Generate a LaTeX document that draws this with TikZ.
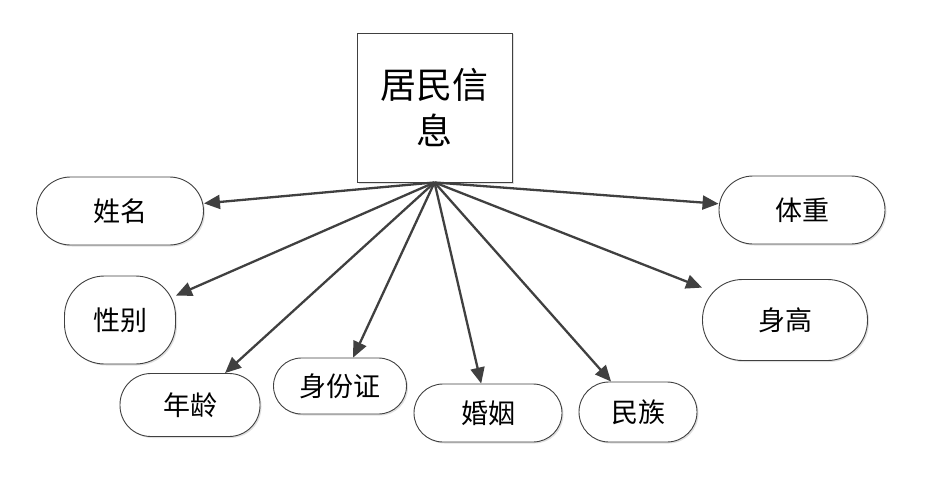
\documentclass[tikz,border=0pt]{standalone}
\usepackage{fontspec}
\newfontfamily\cjk{Noto Sans CJK SC}
\usetikzlibrary{arrows.meta,shadows}

\begin{document}
\begin{tikzpicture}[x=1pt,y=-1pt,
  box/.style={draw=black!75,line width=0.9pt,fill=white,
    drop shadow={shadow xshift=1.5pt,shadow yshift=-1.5pt,fill=black!12,opacity=1}},
  attr/.style={box,rounded corners=#1,inner sep=0pt,font=\cjk\fontsize{27}{32}\selectfont},
  link/.style={-{Triangle[length=16pt,width=14pt]},line width=2.3pt,draw=black!75}]
\useasboundingbox (0,0) rectangle (947,487);
% main entity
\node[box,minimum width=155pt,minimum height=149pt,align=center,
  font=\cjk\fontsize{36}{46}\selectfont] (jumin) at (434.5,107.5) {居民信\\息};
% attributes
\node[attr=34pt,minimum width=167pt,minimum height=68pt] (xingming) at (120,211) {姓名};
\node[attr=40pt,minimum width=111pt,minimum height=88pt] (xingbie) at (120,320) {性别};
\node[attr=31pt,minimum width=140pt,minimum height=63pt] (nianling) at (190,405) {年龄};
\node[attr=28pt,minimum width=133pt,minimum height=56pt] (shenfen) at (340,386) {身份证};
\node[attr=29pt,minimum width=148pt,minimum height=58pt] (hunyin) at (488,413) {婚姻};
\node[attr=30pt,minimum width=118pt,minimum height=60pt] (minzu) at (638,412) {民族};
\node[attr=34pt,minimum width=166pt,minimum height=68pt] (tizhong) at (802,210) {体重};
\node[attr=40pt,minimum width=165pt,minimum height=81pt] (shengao) at (785,320) {身高};
% links
\draw[link] (jumin.south) -- (xingming);
\draw[link] (jumin.south) -- (xingbie);
\draw[link] (jumin.south) -- (nianling);
\draw[link] (jumin.south) -- (shenfen);
\draw[link] (jumin.south) -- (hunyin);
\draw[link] (jumin.south) -- (minzu);
\draw[link] (jumin.south) -- (tizhong);
\draw[link] (jumin.south) -- (shengao);
\end{tikzpicture}
\end{document}
